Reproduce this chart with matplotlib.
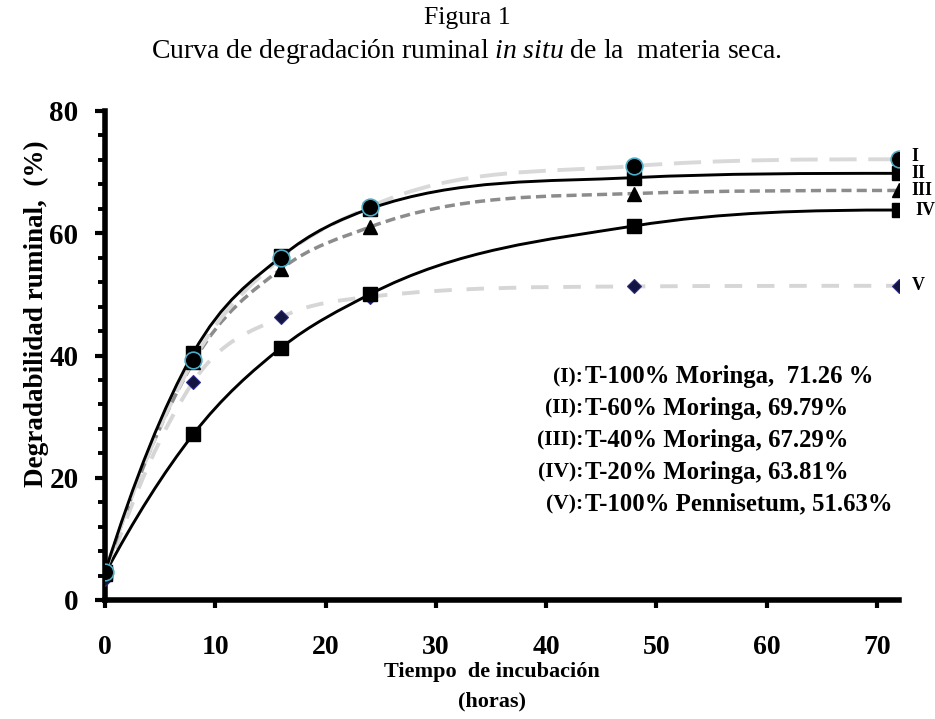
import numpy as np
import matplotlib
matplotlib.use("Agg")
import matplotlib.pyplot as plt
from matplotlib.path import Path
from matplotlib.patches import PathPatch
from matplotlib.ticker import MultipleLocator

plt.rcParams['font.family'] = 'Liberation Serif'
plt.rcParams['mathtext.fontset'] = 'custom'
plt.rcParams['mathtext.rm'] = 'Liberation Serif'
plt.rcParams['mathtext.it'] = 'Liberation Serif:italic'

# Data
horas = [0, 8, 16, 24, 48, 72]
serie_I = [4.5, 39.2, 56.0, 64.3, 71.0, 72.1]     # T-100% Moringa
serie_II = [4.5, 40.4, 56.2, 64.0, 69.1, 69.8]    # T-60% Moringa
serie_III = [4.4, 38.9, 54.2, 61.0, 66.5, 67.0]   # T-40% Moringa
serie_IV = [4.3, 27.1, 41.3, 50.0, 61.2, 63.8]    # T-20% Moringa
serie_V = [3.4, 35.7, 46.3, 49.6, 51.3, 51.4]     # T-100% Pennisetum

etiquetas = ["I", "II", "III", "IV", "V"]
leyenda_num = ["(I):", "(II):", "(III):", "(IV):", "(V):"]
leyenda_txt = ["T-100% Moringa,  71.26 %", "T-60% Moringa, 69.79%",
               "T-40% Moringa, 67.29%", "T-20% Moringa, 63.81%",
               "T-100% Pennisetum, 51.63%"]


def smooth_path(x, y):
    # smoothed line through the points: cubic hermite (3-point slopes,
    # fritsch-carlson limited) written as bezier segments
    x = np.asarray(x, float)
    y = np.asarray(y, float)
    n = len(x)
    h = np.diff(x)
    d = np.diff(y) / h
    m = np.zeros(n)
    for i in range(1, n - 1):
        m[i] = (h[i] * d[i - 1] + h[i - 1] * d[i]) / (h[i - 1] + h[i])
    m[0] = ((2 * h[0] + h[1]) * d[0] - h[0] * d[1]) / (h[0] + h[1])
    m[-1] = ((2 * h[-1] + h[-2]) * d[-1] - h[-1] * d[-2]) / (h[-1] + h[-2])
    if np.sign(m[-1]) != np.sign(d[-1]):
        m[-1] = 0.0
    for i in range(n - 1):
        if d[i] == 0:
            m[i] = m[i + 1] = 0
            continue
        a, b = m[i] / d[i], m[i + 1] / d[i]
        s = a * a + b * b
        if s > 9:
            t = 3 / np.sqrt(s)
            m[i] = t * a * d[i]
            m[i + 1] = t * b * d[i]
    verts = [(x[0], y[0])]
    codes = [Path.MOVETO]
    for i in range(n - 1):
        verts += [(x[i] + h[i] / 3, y[i] + m[i] * h[i] / 3),
                  (x[i + 1] - h[i] / 3, y[i + 1] - m[i + 1] * h[i] / 3),
                  (x[i + 1], y[i + 1])]
        codes += [Path.CURVE4] * 3
    return Path(verts, codes)


fig = plt.figure(figsize=(9.35, 7.19), dpi=100)
ax = fig.add_axes([105 / 935, 1 - 600 / 719, (899 - 105) / 935, (600 - 111) / 719])

line_styles = [
    (serie_V, dict(color="#d6d6d6", lw=2.8, linestyle=(0, (4.5, 3.8)))),
    (serie_IV, dict(color="black", lw=2.1, linestyle="-")),
    (serie_III, dict(color="#8c8c8c", lw=2.5, linestyle=(0, (2.9, 1.5)))),
    (serie_I, dict(color="#d9d9d9", lw=2.8, linestyle=(0, (7, 3)))),
    (serie_II, dict(color="black", lw=2.1, linestyle="-")),
]
for ys, st in line_styles:
    patch = PathPatch(smooth_path(horas, ys), facecolor="none", edgecolor=st["color"],
                      lw=st["lw"], linestyle=st["linestyle"], zorder=2, capstyle="butt")
    ax.add_patch(patch)

# markers (bottom to top)
ax.plot(horas, serie_V, linestyle="none", marker="D", ms=7, mfc="#141440", mec="#2a2a8a", mew=0.8, zorder=3)
ax.plot(horas, serie_IV, linestyle="none", marker="s", ms=9.5, mfc="black", mec="black", zorder=4)
ax.plot(horas, serie_III, linestyle="none", marker="^", ms=10.5, mfc="black", mec="black", zorder=5)
ax.plot(horas, serie_II, linestyle="none", marker="s", ms=9.5, mfc="black", mec="black", zorder=6)
ax.plot(horas, serie_I, linestyle="none", marker="o", ms=12, mfc="black", mec="#4bacc6", mew=1.2, zorder=7)

# roman numeral labels at the end of each curve
finales = [serie_I[-1], serie_II[-1], serie_III[-1], serie_IV[-1], serie_V[-1]]
offs = [0.5, 0.0, 0.0, 0.0, 0.0]
dx = [9, 9, 9, 12, 9]
for lab, yv, dy, ox in zip(etiquetas, finales, offs, dx):
    ax.annotate(lab, (horas[-1], yv + dy), xytext=(ox, 0), textcoords="offset points",
                ha="left", va="center", fontsize=13, fontweight="bold", clip_on=False)

ax.set_xlim(0, 72)
ax.set_ylim(0, 80)
ax.xaxis.set_major_locator(MultipleLocator(10))
ax.yaxis.set_major_locator(MultipleLocator(20))
ax.yaxis.set_minor_locator(MultipleLocator(4))
for s in ["top", "right"]:
    ax.spines[s].set_visible(False)
for s in ["left", "bottom"]:
    ax.spines[s].set_linewidth(4)
ax.tick_params(axis="x", which="major", direction="out", length=6, width=3,
               labelsize=20, pad=19)
ax.tick_params(axis="y", which="major", direction="out", length=7, width=3,
               labelsize=21, pad=12)
ax.tick_params(axis="y", which="minor", direction="out", length=5, width=2.8)
for lbl in ax.get_xticklabels() + ax.get_yticklabels():
    lbl.set_fontweight("bold")

# annotation block
y0 = 377
for i, (a, b) in enumerate(zip(leyenda_num, leyenda_txt)):
    ypix = y0 + i * 31.8
    fig.text(583 / 935, 1 - ypix / 719, a, ha="right", va="center", fontsize=15.5, fontweight="bold")
    fig.text(585 / 935, 1 - ypix / 719, b, ha="left", va="center", fontsize=17.8, fontweight="bold")

# axis titles
fig.text(36 / 935, 1 - 314 / 719, "Degradabilidad ruminal,  (%)", rotation=90, ha="center",
         va="center", fontsize=19.5, fontweight="bold")
fig.text(492 / 935, 1 - 672 / 719, "Tiempo  de incubación", ha="center", va="center",
         fontsize=16, fontweight="bold")
fig.text(492 / 935, 1 - 701 / 719, "(horas)", ha="center", va="center",
         fontsize=16, fontweight="bold")

# caption
fig.text(467 / 935, 1 - 18 / 719, "Figura 1", ha="center", va="center", fontsize=18.5)
fig.text(466 / 935, 1 - 51 / 719, r"Curva de degradación ruminal $\it{in\ situ}$ de la  materia seca.",
         ha="center", va="center", fontsize=20)

fig.savefig("out.png", dpi=100)
